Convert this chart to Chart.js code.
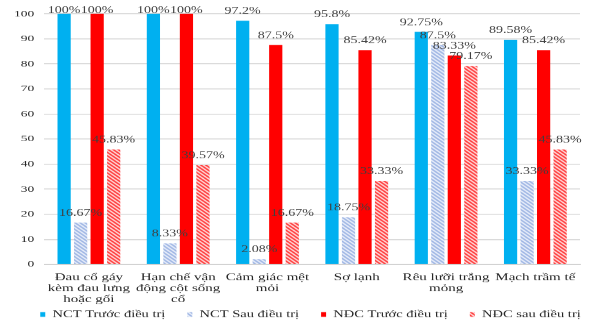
<!DOCTYPE html>
<html>
<head>
<meta charset="utf-8">
<script src="https://cdn.jsdelivr.net/npm/chart.js@4"></script>
<style>
  html, body { margin: 0; padding: 0; background: #fff; overflow: hidden; }
</style>
</head>
<body>
<!-- drawn on a taller canvas and shown at 322px high, giving the flattened lettering -->
<canvas id="c" width="590" height="470" style="display:block;width:590px;height:322px"></canvas>
<script>
// Symptom categories (multi-line tick labels)
const categories = [
  ["Đau cổ gáy", "kèm đau lưng", "hoặc gối"],
  ["Hạn chế vận", "động cột sống", "cổ"],
  ["Cảm giác mệt", "mỏi"],
  ["Sợ lạnh"],
  ["Rêu lưỡi trắng", "mỏng"],
  ["Mạch trầm tế"]
];

const seriesNames = [
  "NCT Trước điều trị",
  "NCT Sau điều trị",
  "NĐC Trước điều trị",
  "NĐC sau điều trị"
];

// Percentages per group
const nctBefore = [100, 100, 97.2, 95.8, 92.75, 89.58];
const nctAfter  = [16.67, 8.33, 2.08, 18.75, 87.5, 33.33];
const ndcBefore = [100, 100, 87.5, 85.42, 83.33, 85.42];
const ndcAfter  = [45.83, 39.57, 16.67, 33.33, 79.17, 45.83];

const yTicks = [0, 10, 20, 30, 40, 50, 60, 70, 80, 90, 100];

const SERIF = "'Liberation Serif', 'DejaVu Serif', serif";
const LEGEND_PAD = 22;

// Diagonal hatch fill for the "after treatment" bars
function hatch(bg, fg) {
  const s = 5;
  const cv = document.createElement('canvas');
  cv.width = s; cv.height = s;
  const g = cv.getContext('2d');
  g.fillStyle = bg;
  g.fillRect(0, 0, s, s);
  g.strokeStyle = fg;
  g.lineWidth = 1.6;
  g.beginPath();
  g.moveTo(-1, -1); g.lineTo(s + 1, s + 1);
  g.moveTo(-1, s - 1); g.lineTo(1, s + 1);
  g.moveTo(s - 1, -1); g.lineTo(s + 1, 1);
  g.stroke();
  return g.createPattern(cv, 'repeat');
}

const ctx = document.getElementById('c').getContext('2d');
const blueHatch = hatch('#e3eaf8', '#9fb6e4');
const redHatch = hatch('#ffd0d0', '#ff3b3b');

// Value labels printed above each bar, kept from running off the top
const valueLabels = {
  id: 'valueLabels',
  afterDatasetsDraw(chart) {
    const c = chart.ctx;
    const minY = chart.chartArea.top - 1.5;
    c.save();
    c.font = "14px " + SERIF;
    c.fillStyle = '#404040';
    c.textAlign = 'center';
    c.textBaseline = 'alphabetic';
    chart.data.datasets.forEach((ds, i) => {
      const meta = chart.getDatasetMeta(i);
      meta.data.forEach((bar, j) => {
        const y = Math.max(bar.y - 10, minY);
        c.fillText(ds.data[j] + '%', bar.x, y);
      });
    });
    c.restore();
  }
};

// Legend band: a single short row tucked just under the category labels,
// starting beneath the plot's left edge
const legendPlacement = {
  id: 'legendPlacement',
  beforeLayout(chart) {
    const lg = chart.legend;
    if (lg && !lg._compact) {
      const fit = lg.fit.bind(lg);
      lg.fit = function () {
        this.maxWidth = 2000;
        fit();
        this.height = 14;
      };
      lg._compact = true;
    }
  },
  afterLayout(chart) {
    const lg = chart.legend;
    if (!lg) return;
    lg.left = chart.chartArea.left - 4 - LEGEND_PAD;
    lg.right = chart.width + 400;
    lg.top = chart.chartArea.bottom + 44;
    lg.bottom = lg.top + 39;
  }
};

new Chart(ctx, {
  type: 'bar',
  data: {
    labels: categories,
    datasets: [
      { label: seriesNames[0], data: nctBefore, backgroundColor: '#00b0f0' },
      { label: seriesNames[1], data: nctAfter, backgroundColor: blueHatch },
      { label: seriesNames[2], data: ndcBefore, backgroundColor: '#ff0000' },
      { label: seriesNames[3], data: ndcAfter, backgroundColor: redHatch }
    ]
  },
  options: {
    responsive: false,
    animation: false,
    devicePixelRatio: 1,
    layout: { padding: { top: 20, right: 10, left: 4, bottom: 0 } },
    datasets: {
      bar: { categoryPercentage: 0.74, barPercentage: 0.8 }
    },
    scales: {
      x: {
        grid: { display: false, drawTicks: false },
        border: { display: true, color: '#c8c8c8', width: 1.5 },
        ticks: {
          color: '#262626',
          font: { family: SERIF, size: 15, lineHeight: 1.07 },
          maxRotation: 0,
          autoSkip: false,
          padding: 11
        }
      },
      y: {
        min: 0,
        max: 100,
        afterBuildTicks(axis) { axis.ticks = yTicks.map(v => ({ value: v })); },
        grid: { color: '#d9d9d9', lineWidth: 1.5, drawTicks: false },
        border: { display: false },
        ticks: {
          color: '#262626',
          font: { family: SERIF, size: 13.5 },
          padding: 10
        }
      }
    },
    plugins: {
      legend: {
        position: 'bottom',
        align: 'start',
        labels: {
          boxWidth: 5,
          boxHeight: 7,
          padding: LEGEND_PAD,
          color: '#262626',
          font: { family: SERIF, size: 14.5 }
        }
      },
      tooltip: { enabled: false }
    }
  },
  plugins: [valueLabels, legendPlacement]
});
</script>
</body>
</html>
